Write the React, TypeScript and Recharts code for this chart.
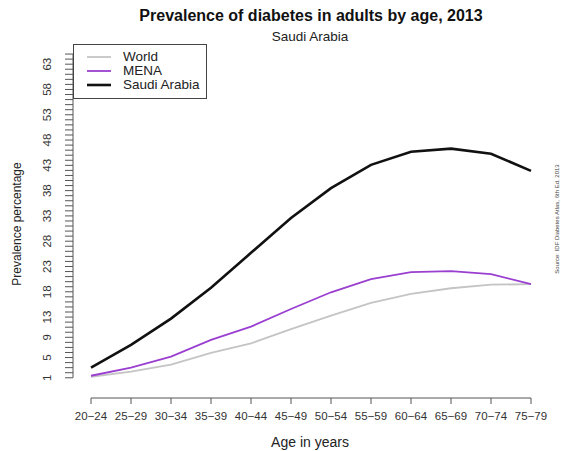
import { LineChart, Line, XAxis, YAxis, ReferenceLine } from 'recharts'

const ageGroups = ['20−24', '25−29', '30−34', '35−39', '40−44', '45−49', '50−54', '55−59', '60−64', '65−69', '70−74', '75−79']
const world = [1.2, 2.2, 3.6, 5.9, 7.8, 10.6, 13.3, 15.8, 17.6, 18.7, 19.4, 19.5]
const mena = [1.4, 3.0, 5.2, 8.5, 11.1, 14.6, 17.9, 20.5, 21.9, 22.1, 21.5, 19.5]
const saudi = [3.0, 7.5, 12.7, 18.8, 25.7, 32.6, 38.5, 43.1, 45.7, 46.3, 45.3, 41.9]
const yLabels = [1, 5, 9, 13, 18, 23, 28, 33, 38, 43, 48, 53, 58, 63]
const yTicks = Array.from({ length: 65 }, (_, i) => i + 1)

const data = ageGroups.map((age, i) => ({ age, World: world[i], MENA: mena[i], 'Saudi Arabia': saudi[i] }))

const series = [
  { key: 'World', color: '#c4c4c4', width: 1.8 },
  { key: 'MENA', color: '#9a3fd0', width: 1.8 },
  { key: 'Saudi Arabia', color: '#111', width: 2.6 },
]

const FONT = '"Liberation Sans", Arial, sans-serif'
const Y_MIN = -3
const Y_MAX = 66
const PLOT_TOP = 49
const PLOT_H = 349
const X_AXIS_H = 30
const PX_PER_UNIT = PLOT_H / (Y_MAX - Y_MIN)

function YTick(props: any) {
  const { x, y, payload } = props
  const v = payload.value
  return (
    <g>
      <line x1={x - 8} x2={x} y1={y} y2={y} stroke="#555" strokeWidth={1} />
      {v === yTicks[0] && (
        <line x1={x} x2={x} y1={y} y2={y - (yTicks[yTicks.length - 1] - v) * PX_PER_UNIT} stroke="#555" strokeWidth={1} />
      )}
      {yLabels.includes(v) && (
        <text x={x - 26} y={y} transform={`rotate(-90 ${x - 26} ${y})`} textAnchor="middle" dominantBaseline="central"
          fontSize={11.5} fill="#333" fontFamily={FONT}>{v}</text>
      )}
    </g>
  )
}

function LegendBox() {
  return (
    <div style={{ position: 'absolute', left: 73, top: 44, width: 134, height: 55, border: '1px solid #444', boxSizing: 'border-box', background: '#fff', fontFamily: FONT }}>
      {series.map((it, i) => (
        <div key={it.key} style={{ position: 'absolute', left: 0, top: 5 + i * 14, height: 14, width: '100%' }}>
          <svg width={40} height={14} style={{ position: 'absolute', left: 12, top: 0 }}>
            <line x1={1} x2={25} y1={7} y2={7} stroke={it.color} strokeWidth={it.width} />
          </svg>
          <span style={{ position: 'absolute', left: 49, top: -1, fontSize: 13.5, lineHeight: '16px', color: '#222' }}>{it.key}</span>
        </div>
      ))}
    </div>
  )
}

export default function App() {
  return (
    <div style={{ position: 'absolute', left: 0, top: 0, width: 561, height: 451, background: '#fff', fontFamily: FONT }}>
      <LineChart width={561} height={451} data={data}
        margin={{ top: PLOT_TOP, right: 12, bottom: 451 - PLOT_TOP - PLOT_H - X_AXIS_H, left: 13 }}>
        <XAxis dataKey="age" height={X_AXIS_H} padding={{ left: 18, right: 18 }} axisLine={false} tickSize={6} tickMargin={8}
          tickLine={{ stroke: '#555' }} tick={{ fontSize: 11.5, fill: '#333', fontFamily: FONT }} interval={0} />
        <YAxis type="number" domain={[Y_MIN, Y_MAX]} allowDataOverflow ticks={yTicks} interval={0} width={60}
          axisLine={false} tickLine={false} tickSize={0} tickMargin={0} tick={<YTick />} />
        <ReferenceLine segment={[{ x: ageGroups[0], y: Y_MIN }, { x: ageGroups[ageGroups.length - 1], y: Y_MIN }]}
          stroke="#555" strokeWidth={1} ifOverflow="visible" />
        {series.map((s) => (
          <Line key={s.key} type="linear" dataKey={s.key} stroke={s.color} strokeWidth={s.width} dot={false} isAnimationActive={false} />
        ))}
      </LineChart>
      <LegendBox />
      <div style={{ position: 'absolute', left: 0, width: 622, top: 7, textAlign: 'center', fontSize: 16, fontWeight: 'bold', color: '#111' }}>
        Prevalence of diabetes in adults by age, 2013
      </div>
      <div style={{ position: 'absolute', left: 0, width: 620, top: 29, textAlign: 'center', fontSize: 13.5, color: '#222' }}>
        Saudi Arabia
      </div>
      <div style={{ position: 'absolute', left: 0, width: 620, top: 434, textAlign: 'center', fontSize: 14, color: '#222' }}>
        Age in years
      </div>
      <div style={{ position: 'absolute', left: 17, top: 224, transform: 'translate(-50%, -50%) rotate(-90deg)', whiteSpace: 'nowrap', fontSize: 12, color: '#222' }}>
        Prevalence percentage
      </div>
      <div style={{ position: 'absolute', left: 557, top: 219, transform: 'translate(-50%, -50%) rotate(-90deg)', whiteSpace: 'nowrap', fontSize: 6, color: '#444' }}>
        Source: IDF Diabetes Atlas, 6th Ed. 2013
      </div>
    </div>
  )
}
